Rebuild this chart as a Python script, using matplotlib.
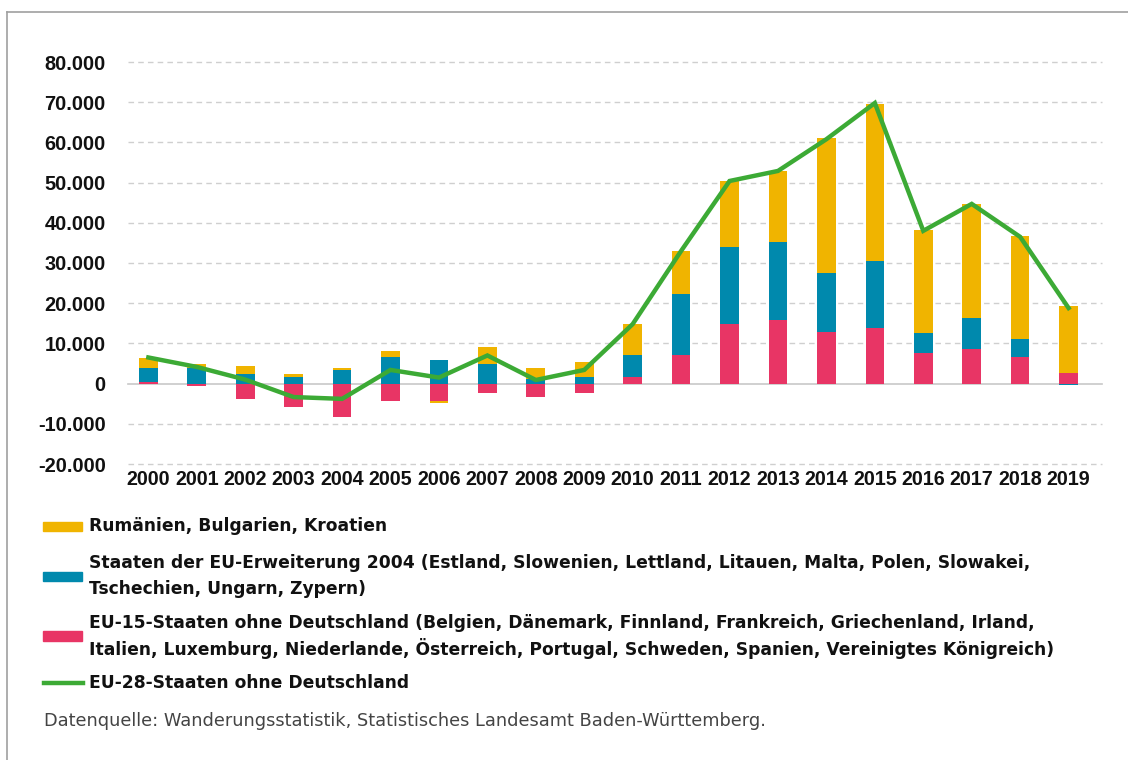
import numpy as np
import matplotlib
matplotlib.use("Agg")
import matplotlib.pyplot as plt
from matplotlib.lines import Line2D
from matplotlib.patches import Rectangle

plt.rcParams['font.family'] = ['Liberation Sans', 'DejaVu Sans']

# Wanderungssaldo Baden-Württemberg nach Staatengruppen
years = [str(y) for y in range(2000, 2020)]
eu15 = [400, -650, -3750, -5750, -8300, -4250, -4250, -2250, -3250, -2250,
        1600, 7200, 14750, 15850, 12800, 13800, 7700, 8700, 6700, 2600]
eu2004 = [3400, 3800, 2350, 1750, 3300, 6500, 5900, 4900, 1150, 1750,
          5500, 15200, 19350, 19250, 14700, 16700, 5000, 7550, 4500, -350]
ro_bg_hr = [2600, 1000, 2050, 650, 500, 1500, -500, 4100, 2650, 3650,
            7700, 10600, 16400, 17800, 33500, 39150, 25450, 28550, 25450, 16700]
eu28 = [6500, 4150, 1000, -3350, -3800, 3400, 1500, 7000, 900, 3400,
        14800, 33000, 50400, 52900, 60800, 69800, 38000, 44700, 36500, 18800]

yticks = [-20000, -10000, 0, 10000, 20000, 30000, 40000, 50000, 60000, 70000, 80000]

legend_rows = [
    ("bar", "#f0b400", ["Rumänien, Bulgarien, Kroatien"]),
    ("bar", "#0089ad", ["Staaten der EU-Erweiterung 2004 (Estland, Slowenien, Lettland, Litauen, Malta, Polen, Slowakei,",
                        "Tschechien, Ungarn, Zypern)"]),
    ("bar", "#e83565", ["EU-15-Staaten ohne Deutschland (Belgien, Dänemark, Finnland, Frankreich, Griechenland, Irland,",
                        "Italien, Luxemburg, Niederlande, Österreich, Portugal, Schweden, Spanien, Vereinigtes Königreich)"]),
    ("line", "#3caa35", ["EU-28-Staaten ohne Deutschland"]),
]
source = "Datenquelle: Wanderungsstatistik, Statistisches Landesamt Baden-Württemberg."

W, H = 1128, 760
fig = plt.figure(figsize=(W / 100, H / 100), dpi=100)

def fx(px):
    return px / W

def fy(py):
    return 1 - py / H

ax = fig.add_axes([fx(128), fy(464), fx(1102 - 128), fy(62) - fy(464)])

x = np.arange(len(years))
width = 0.385
pos = np.zeros(len(years))
neg = np.zeros(len(years))
for vals, color in [(eu15, "#e83565"), (eu2004, "#0089ad"), (ro_bg_hr, "#f0b400")]:
    v = np.array(vals, dtype=float)
    bottom = np.where(v >= 0, pos, neg)
    ax.bar(x, v, width, bottom=bottom, color=color, zorder=3, linewidth=0)
    pos = pos + np.where(v >= 0, v, 0)
    neg = neg + np.where(v < 0, v, 0)

ax.plot(x, eu28, color="#3caa35", lw=3.2, zorder=5, solid_joinstyle="miter")

for t in yticks:
    if t == 0:
        ax.axhline(0, color="#c8c8c8", lw=1.2, zorder=2, clip_on=False)
    else:
        ax.axhline(t, color="#cfcfcf", lw=1.0, ls=(0, (4, 3)), zorder=1, clip_on=False)

ax.set_xlim(-0.42, len(years) - 1 + 0.69)
ax.set_ylim(-20000, 80000)
ax.set_yticks(yticks)
ax.set_yticklabels([f"{t:,}".replace(",", ".") for t in yticks],
                   fontsize=14.4, fontweight="bold", family=["Liberation Sans"])
ax.set_xticks(x)
ax.set_xticklabels(years, fontsize=14.2, fontweight="bold", family=["Liberation Sans"])
for s in ax.spines.values():
    s.set_visible(False)
ax.tick_params(axis="both", length=0, colors="#111111")
ax.tick_params(axis="y", pad=16)
ax.tick_params(axis="x", pad=4)

# legend drawn by hand below the chart
row_y = [526, 576, 636, 683]
line_gap = 25
for (kind, color, lines), yc in zip(legend_rows, row_y):
    if kind == "bar":
        fig.patches.append(Rectangle((fx(43), fy(yc + 4.5)), fx(39), fy(yc - 4.5) - fy(yc + 4.5),
                                     transform=fig.transFigure, color=color))
    else:
        fig.lines.append(Line2D([fx(44), fx(83)], [fy(yc), fy(yc)], transform=fig.transFigure,
                                color=color, lw=3.2))
    first = yc - line_gap * (len(lines) - 1) / 2
    for i, txt in enumerate(lines):
        fig.text(fx(89), fy(first + i * line_gap), txt, fontsize=12.3, fontweight="bold",
                 family=["DejaVu Sans"], color="#111111", va="center", ha="left")

fig.text(fx(44), fy(721), source, fontsize=12.8, family=["DejaVu Sans"],
         color="#444444", va="center", ha="left")

# frame: top and left edge only
fig.lines.append(Line2D([fx(6.5), 1], [fy(11.5), fy(11.5)], transform=fig.transFigure, color="#a0a0a0", lw=1.2))
fig.lines.append(Line2D([fx(6.5), fx(6.5)], [fy(11.5), 0], transform=fig.transFigure, color="#a0a0a0", lw=1.2))

fig.savefig("out.png", dpi=100, facecolor="white")
